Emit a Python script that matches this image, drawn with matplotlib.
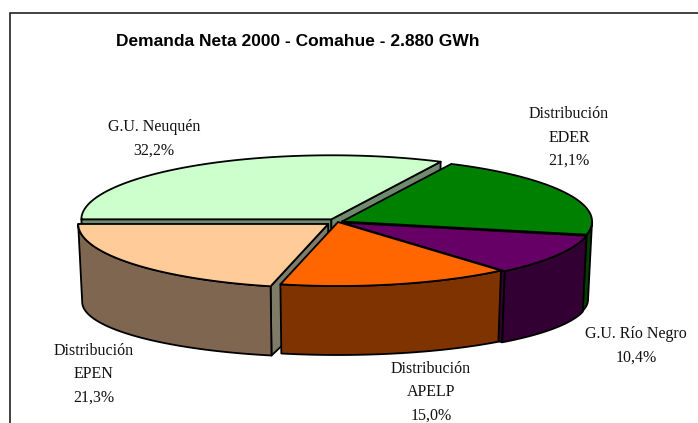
import numpy as np
import matplotlib
matplotlib.use("Agg")
import matplotlib.pyplot as plt
from matplotlib.patches import Polygon

# data
names = ["G.U. Neuquén", "Distribución\nEDER", "G.U. Río Negro",
         "Distribución\nAPELP", "Distribución\nEPEN"]
shares = [32.2, 21.1, 10.4, 15.0, 21.3]
title = "Demanda Neta 2000 - Comahue - 2.880 GWh"

top_colors = ["#CCFFCC", "#008000", "#660066", "#FF6600", "#FFCC99"]
wall_colors = ["#668066", "#003F00", "#330033", "#7F3300", "#7F6650"]
side_colors = ["#708A70", "#003F00", "#330033", "#7F3300", "#7E7C68"]
explode = [0.05, 0.018, 0.018, 0.0, 0.05]
label_pos = [(154, 127), (569, 114), (636, 334), (431, 369), (94, 351)]
draw_order = [0, 1, 2, 4, 3]   # back to front

# pie geometry in pixel units (y down)
cx, cy = 338, 222
rx, ry = 250, 64
rxb, ryb = 246, 55       # bottom rim, a bit smaller (perspective)
h = 78

W, H = 698, 423
fig = plt.figure(figsize=(W / 100, H / 100), dpi=100)
ax = fig.add_axes([0, 0, 1, 1])
ax.set_xlim(0, W)
ax.set_ylim(H, 0)
ax.axis("off")

# chart frame (only top/left edges fall inside the picture)
ax.plot([10, 10, W + 5], [H + 5, 13, 13], color="#222222", lw=1.2,
        solid_joinstyle="miter")


def top_pt(t, ox, oy):
    r = np.radians(t)
    return cx + ox + rx * np.cos(r), cy + oy - ry * np.sin(r)


def bot_pt(t, ox, oy):
    r = np.radians(t)
    return cx + ox + rxb * np.cos(r), cy + h + oy - ryb * np.sin(r)


def poly(pts, color, z):
    ax.add_patch(Polygon(pts, closed=True, facecolor=color, edgecolor="black",
                         lw=1.3, joinstyle="round", zorder=z))


# slices clockwise from 9 o'clock
spans = 360 * np.array(shares) / sum(shares)
starts = 180 - np.concatenate([[0], np.cumsum(spans)[:-1]])
ends = starts - spans

for z, i in enumerate(draw_order, start=1):
    t0, t1 = starts[i], ends[i]
    mid = np.radians((t0 + t1) / 2)
    ox = explode[i] * rx * np.cos(mid)
    oy = -explode[i] * ry * np.sin(mid)
    apex_t = (cx + ox, cy + oy)
    apex_b = (cx + ox, cy + h + oy)

    # radial faces turned toward the viewer
    if np.cos(np.radians(t0)) < 0:
        poly([apex_t, top_pt(t0, ox, oy), bot_pt(t0, ox, oy), apex_b],
             side_colors[i], z)
    if np.cos(np.radians(t1)) > 0:
        poly([apex_t, top_pt(t1, ox, oy), bot_pt(t1, ox, oy), apex_b],
             side_colors[i], z)

    # outer wall, front half only
    a, b = min(t0, 0), max(t1, -180)
    if a > b:
        ts = np.linspace(a, b, 80)
        pts = [top_pt(t, ox, oy) for t in ts] + [bot_pt(t, ox, oy) for t in ts[::-1]]
        poly(pts, wall_colors[i], z)

    # top face
    ts = np.linspace(t0, t1, 120)
    poly([apex_t] + [top_pt(t, ox, oy) for t in ts], top_colors[i], z + 0.5)

ax.text(298, 42, title, ha="center", va="center", fontsize=12.5,
        fontweight="bold", family=["Liberation Sans", "DejaVu Sans"])

for i, (x, y) in enumerate(label_pos):
    lines = names[i].split("\n") + [f"{shares[i]:.1f}".replace(".", ",") + "%"]
    for k, s in enumerate(lines):
        ax.text(x, y + 23.5 * k, s, ha="center", va="center", fontsize=11.5,
                family=["Liberation Serif", "DejaVu Serif"], color="#111111")

fig.savefig("out.png", dpi=100)
